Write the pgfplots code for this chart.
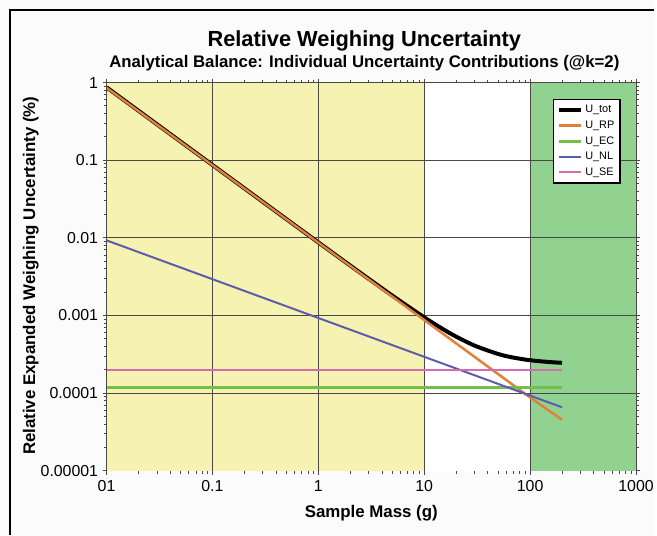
\documentclass[border=0pt]{standalone}
\usepackage{pgfplots}
\pgfplotsset{compat=1.18}
\usepackage{fontspec}
\setmainfont{Liberation Sans}
\definecolor{yfill}{HTML}{F6F2B2}
\definecolor{gfill}{HTML}{92D290}
\definecolor{gridc}{HTML}{4A4A44}
\definecolor{cRP}{HTML}{E0813A}
\definecolor{cEC}{HTML}{74BE4A}
\definecolor{cNL}{HTML}{5A5EAE}
\definecolor{cSE}{HTML}{D46CB4}
\pgfplotsset{legend image code/.code={\draw[#1] (0bp,0bp) -- (22bp,0bp);}}
\begin{document}
\begin{tikzpicture}
\fill[white!97!gray] (0bp,0bp) rectangle (657bp,537bp);
\draw[line width=1.3bp] (10bp,0bp) -- (10bp,527bp) -- (657bp,527bp);
\node[anchor=base,font=\fontsize{22}{22}\selectfont\bfseries] at (366bp,490bp) {Relative Weighing Uncertainty};
\node[anchor=base,font=\fontsize{16.9}{16.9}\selectfont\bfseries] at (366bp,469bp) {Analytical Balance: Individual Uncertainty Contributions (@k=2)};
\node[anchor=base,font=\fontsize{17}{17}\selectfont\bfseries] at (373bp,17bp) {Sample Mass (g)};
\node[anchor=center,rotate=90,font=\fontsize{17}{17}\selectfont\bfseries] at (31bp,260bp) {Relative Expanded Weighing Uncertainty (\%)};
\begin{axis}[
  at={(107bp,64bp)}, anchor=south west,
  scale only axis, width=532bp, height=390bp,
  xmode=log, ymode=log,
  xmin=0.01, xmax=1000, ymin=1e-5, ymax=1,
  xtick={0.01,0.1,1,10,100,1000},
  xticklabels={01,0.1,1,10,100,1000},
  ytick={1e-5,1e-4,1e-3,1e-2,1e-1,1},
  yticklabels={0.00001,0.0001,0.001,0.01,0.1,1},
  minor tick num=0,
  /pgf/number format/assume math mode=true,
  tick label style={font=\fontsize{16}{16}\selectfont},
  xticklabel style={yshift=-2bp},
  yticklabel style={xshift=-1bp},
  tick align=outside,
  major tick length=4bp,
  tick style={draw=gridc, line width=1bp},
  axis line style={draw=gridc, line width=1.2bp},
  unbounded coords=jump,
  legend style={at={(0.972,0.959)}, anchor=north east, draw=black, line width=1.8bp,
    fill=white, font=\fontsize{11}{11}\selectfont, inner xsep=4bp, inner ysep=4bp,
    row sep=2.6bp, legend cell align=left},
]
\addplot[fill=yfill, draw=none, forget plot] coordinates {(0.01,1e-5) (0.01,1) (10,1) (10,1e-5)} -- cycle;
\addplot[fill=white, draw=none, forget plot] coordinates {(10,1e-5) (10,1) (100,1) (100,1e-5)} -- cycle;
\addplot[fill=gfill, draw=none, forget plot] coordinates {(100,1e-5) (100,1) (1000,1) (1000,1e-5)} -- cycle;
% grid lines
\addplot[gridc, line width=1.2bp, forget plot] coordinates {
(0.1,1e-5) (0.1,1) (nan,nan) (1,1e-5) (1,1) (nan,nan) (10,1e-5) (10,1) (nan,nan) (100,1e-5) (100,1) (nan,nan)
(0.01,1e-4) (1000,1e-4) (nan,nan) (0.01,1e-3) (1000,1e-3) (nan,nan) (0.01,1e-2) (1000,1e-2) (nan,nan) (0.01,1e-1) (1000,1e-1)};
% U_tot
\addplot[black, line width=4bp, smooth] coordinates {
(0.01,0.87) (0.02,0.43505) (0.05,0.17405) (0.1,0.08705) (0.2,0.04355) (0.5,0.01745)
(1,0.008753) (2,0.004406) (5,0.001804) (10,0.0009475) (15,0.0006697) (20,0.0005356)
(30,0.0004091) (50,0.0003193) (70,0.0002867) (100,0.0002657) (150,0.0002521) (200,0.0002462)};
\addlegendentry{U\_tot}
% U_RP
\addplot[cRP, line width=2.5bp] coordinates {
(0.01,0.86) (0.1,0.0865) (1,0.0087) (10,0.000875) (100,0.000088) (200,0.0000455)};
\addlegendentry{U\_RP}
% U_EC
\addplot[cEC, line width=3bp] coordinates {(0.01,0.00012) (200,0.00012)};
\addlegendentry{U\_EC}
% U_NL
\addplot[cNL, line width=2bp] coordinates {
(0.01,0.0093) (0.1,0.002941) (1,0.00093) (10,0.0002941) (100,0.000093) (200,0.00006576)};
\addlegendentry{U\_NL}
% U_SE
\addplot[cSE, line width=2bp] coordinates {(0.01,0.0002) (200,0.0002)};
\addlegendentry{U\_SE}
\end{axis}
\end{tikzpicture}
\end{document}
